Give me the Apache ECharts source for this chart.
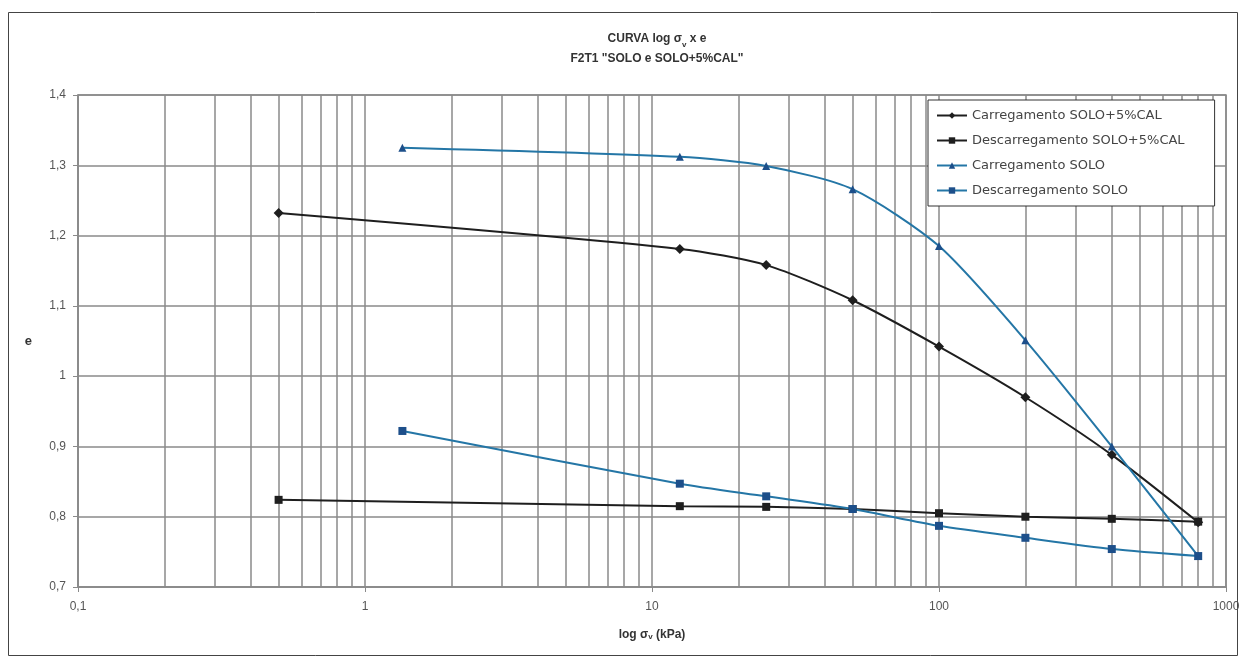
<!DOCTYPE html>
<html>
<head>
<meta charset="utf-8">
<script src="https://cdn.jsdelivr.net/npm/echarts@6/dist/echarts.min.js"></script>
<style>
  html, body { margin: 0; padding: 0; background: #fff; }
  #chart { width: 1246px; height: 661px; }
</style>
</head>
<body>
<div id="chart"></div>
<script>
// tensões (kPa)
const tensaoCal = [0.5, 12.5, 25, 50, 100, 200, 400, 800];
const tensaoSolo = [1.35, 12.5, 25, 50, 100, 200, 400, 800];

// índice de vazios e
const carregCal = [1.232, 1.181, 1.158, 1.108, 1.042, 0.970, 0.888, 0.792];
const descarCal = [0.824, 0.815, 0.814, 0.811, 0.805, 0.800, 0.797, 0.793];
const carregSolo = [1.325, 1.312, 1.299, 1.266, 1.185, 1.051, 0.900, 0.744];
const descarSolo = [0.922, 0.847, 0.829, 0.811, 0.787, 0.770, 0.754, 0.744];

const seriesNames = [
  'Carregamento SOLO+5%CAL',
  'Descarregamento SOLO+5%CAL',
  'Carregamento SOLO',
  'Descarregamento SOLO'
];

// linhas de grade secundárias (escala log)
const minorX = [0.2, 0.3, 0.4, 0.5, 0.6, 0.7, 0.8, 0.9,
  2, 3, 4, 5, 6, 7, 8, 9,
  20, 30, 40, 50, 60, 70, 80, 90,
  200, 300, 400, 500, 600, 700, 800, 900];

const pair = (xs, ys) => xs.map((x, i) => [x, ys[i]]);
const fmtDec = v => String(+v.toFixed(2)).replace('.', ',');

const chart = echarts.init(document.getElementById('chart'));
const gridColor = '#8a8a8a';
const black = '#1e1e1e';
const blue = '#2476a6';
const darkBlue = '#1d4f8a';
const subStyle = { fontSize: 8, fontWeight: 'bold', color: '#333', verticalAlign: 'bottom', padding: [4, 0, 0, 0] };

const mkSeries = (name, xs, ys, color, symbol, symColor, size) => ({
  name: name,
  type: 'line',
  data: pair(xs, ys),
  smooth: 0.25,
  symbol: symbol,
  symbolSize: size,
  showSymbol: true,
  lineStyle: { color: color, width: 2 },
  itemStyle: { color: symColor, borderWidth: 0 },
  z: 6
});

chart.setOption({
  backgroundColor: '#fff',
  animation: false,
  textStyle: { fontFamily: 'Liberation Sans, Arial, sans-serif' },
  title: {
    text: 'CURVA log σ{sub|v} x e\nF2T1 "SOLO e SOLO+5%CAL"',
    left: 652,
    textAlign: 'center',
    top: 24,
    textStyle: {
      fontSize: 12,
      fontWeight: 'bold',
      color: '#333',
      lineHeight: 20,
      rich: { sub: subStyle }
    }
  },
  legend: {
    orient: 'vertical',
    left: 928,
    top: 100,
    padding: [9, 30, 9, 8],
    itemGap: 12,
    itemWidth: 30,
    itemHeight: 8,
    backgroundColor: '#fff',
    borderColor: '#333',
    borderWidth: 1,
    textStyle: { fontSize: 13, color: '#444', fontFamily: 'DejaVu Sans, sans-serif' },
    data: seriesNames
  },
  grid: {
    left: 78, right: 20, top: 95, bottom: 74,
    show: true, borderColor: gridColor, borderWidth: 1.5
  },
  graphic: [{
    type: 'rect',
    shape: { x: 8.5, y: 12.5, width: 1229, height: 643 },
    style: { fill: 'none', stroke: '#444', lineWidth: 1 },
    silent: true,
    z: -1
  }],
  xAxis: {
    type: 'log',
    logBase: 10,
    min: 0.1,
    max: 1000,
    name: 'log σ{sub|v} (kPa)',
    nameLocation: 'middle',
    nameGap: 42,
    nameTextStyle: {
      fontSize: 12, fontWeight: 'bold', color: '#333',
      rich: { sub: subStyle }
    },
    axisLine: { show: true, lineStyle: { color: gridColor, width: 1.5 } },
    axisTick: { show: true, length: 5, lineStyle: { color: gridColor } },
    axisLabel: {
      fontSize: 12, color: '#555', margin: 14,
      formatter: v => fmtDec(v)
    },
    splitLine: { show: true, lineStyle: { color: gridColor, width: 1.5 } }
  },
  yAxis: {
    type: 'value',
    min: 0.7,
    max: 1.4,
    interval: 0.1,
    name: 'e',
    nameLocation: 'middle',
    nameRotate: 0,
    nameGap: 46,
    nameTextStyle: { fontSize: 13, fontWeight: 'bold', color: '#333' },
    axisLine: { show: true, lineStyle: { color: gridColor, width: 1.5 } },
    axisTick: { show: true, length: 5, lineStyle: { color: gridColor } },
    axisLabel: { fontSize: 12, color: '#555', margin: 12, formatter: v => fmtDec(v) },
    splitLine: { show: true, lineStyle: { color: gridColor, width: 1.5 } }
  },
  series: [
    {
      name: 'grade',
      type: 'line',
      data: [],
      silent: true,
      z: 1,
      markLine: {
        silent: true,
        z: 1,
        symbol: 'none',
        label: { show: false },
        lineStyle: { color: gridColor, width: 1.5, type: 'solid' },
        data: minorX.map(v => ({ xAxis: v }))
      }
    },
    mkSeries(seriesNames[0], tensaoCal, carregCal, black, 'diamond', black, 10),
    mkSeries(seriesNames[1], tensaoCal, descarCal, black, 'rect', black, 8),
    mkSeries(seriesNames[2], tensaoSolo, carregSolo, blue, 'triangle', darkBlue, 8),
    mkSeries(seriesNames[3], tensaoSolo, descarSolo, blue, 'rect', darkBlue, 8)
  ]
});
</script>
</body>
</html>
